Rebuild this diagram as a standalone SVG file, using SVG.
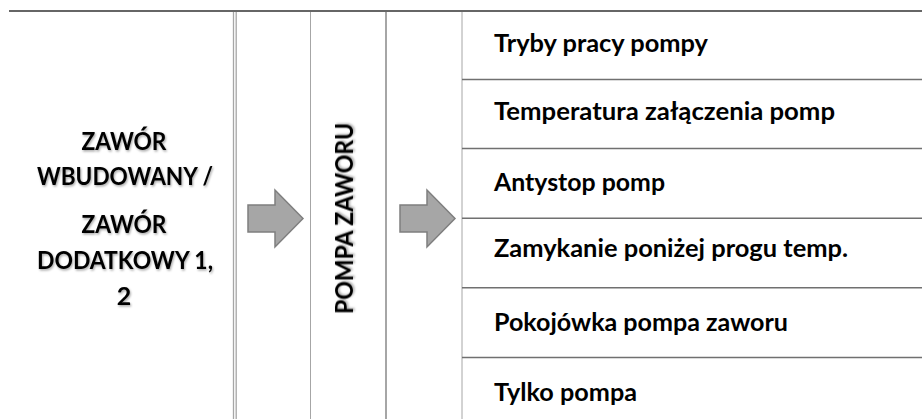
<svg xmlns="http://www.w3.org/2000/svg" width="922" height="419" viewBox="0 0 922 419">
  <defs>
    <filter id="shadow" x="-10%" y="-30%" width="120%" height="160%">
      <feDropShadow dx="1" dy="1.5" stdDeviation="1" flood-color="#000" flood-opacity="0.35"/>
    </filter>
  </defs>
  <style>
    .t { font-family: "Lato", "Liberation Sans", sans-serif; font-weight: bold; font-size: 25px; fill: #000; }
    .mid { text-anchor: middle; }
    .vline { stroke: #a6a6a6; fill: none; }
    .hline { stroke: #707070; stroke-width: 1.5; fill: none; }
    .arrow { fill: #a6a6a6; stroke: #7f7f7f; stroke-width: 1.5; stroke-linejoin: miter; }
  </style>
  <rect width="922" height="419" fill="#fff"/>

  <g id="grid">
    <line x1="9" y1="11" x2="922" y2="11" stroke="#666" stroke-width="2"/>
    <line class="vline" x1="233.5" y1="12" x2="233.5" y2="419" stroke-width="1.3"/>
    <line class="vline" x1="236.2" y1="12" x2="236.2" y2="419" stroke-width="1.3"/>
    <line class="vline" x1="310.5" y1="12" x2="310.5" y2="419" stroke-width="1"/>
    <line class="vline" x1="386" y1="12" x2="386" y2="419" stroke-width="2"/>
    <line class="vline" x1="462" y1="12" x2="462" y2="419" stroke-width="1"/>
    <line class="hline" x1="462" y1="79.5" x2="922" y2="79.5"/>
    <line class="hline" x1="462" y1="148.5" x2="922" y2="148.5"/>
    <line class="hline" x1="462" y1="218.3" x2="922" y2="218.3"/>
    <line class="hline" x1="462" y1="287.7" x2="922" y2="287.7"/>
    <line class="hline" x1="462" y1="357.5" x2="922" y2="357.5"/>
  </g>

  <g id="source">
    <text class="t mid" x="124" y="150" textLength="85" lengthAdjust="spacingAndGlyphs" filter="url(#shadow)">ZAWÓR</text>
    <text class="t mid" x="125" y="185" textLength="176" lengthAdjust="spacingAndGlyphs" filter="url(#shadow)">WBUDOWANY /</text>
    <text class="t mid" x="124" y="233" textLength="85" lengthAdjust="spacingAndGlyphs" filter="url(#shadow)">ZAWÓR</text>
    <text class="t mid" x="125" y="269" textLength="176" lengthAdjust="spacingAndGlyphs" filter="url(#shadow)">DODATKOWY 1,</text>
    <text class="t mid" x="124" y="305" filter="url(#shadow)">2</text>
  </g>

  <g id="pompa">
    <text class="t mid" transform="translate(353,218.5) rotate(-90)" x="0" y="0" textLength="191" lengthAdjust="spacingAndGlyphs" filter="url(#shadow)">POMPA ZAWORU</text>
  </g>

  <g id="items">
    <text class="t" x="494" y="52" textLength="214" lengthAdjust="spacingAndGlyphs">Tryby pracy pompy</text>
    <text class="t" x="494" y="120" textLength="341" lengthAdjust="spacingAndGlyphs">Temperatura załączenia pomp</text>
    <text class="t" x="494" y="191" textLength="171" lengthAdjust="spacingAndGlyphs">Antystop pomp</text>
    <text class="t" x="494" y="257" textLength="354" lengthAdjust="spacingAndGlyphs">Zamykanie poniżej progu temp.</text>
    <text class="t" x="494" y="331" textLength="294" lengthAdjust="spacingAndGlyphs">Pokojówka pompa zaworu</text>
    <text class="t" x="494" y="401" textLength="143" lengthAdjust="spacingAndGlyphs">Tylko pompa</text>
  </g>

  <g id="connectors">
    <path class="arrow" d="M248,205 L275,205 L275,190 L303,218.5 L275,247 L275,232 L248,232 Z"/>
    <path class="arrow" d="M400,205 L427,205 L427,190 L455,218.5 L427,247 L427,232 L400,232 Z"/>
  </g>
</svg>
